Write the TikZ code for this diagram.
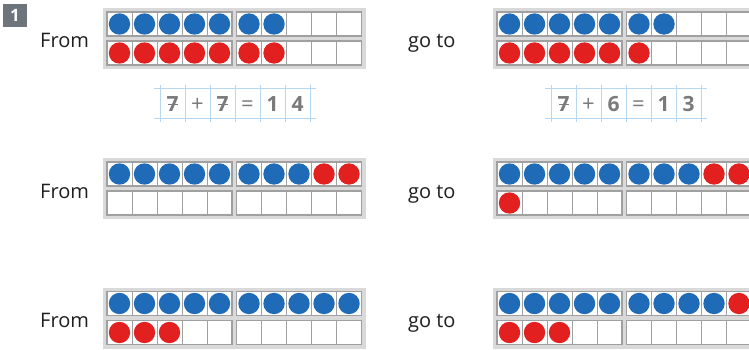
\documentclass[tikz,border=0pt]{standalone}
\usepackage{fontspec}
\setmainfont{Open Sans}
\definecolor{dotblue}{HTML}{1F6BB8}
\definecolor{dotred}{HTML}{E2201F}
\definecolor{framebg}{HTML}{D9D9D9}
\definecolor{cellline}{HTML}{A0A0A0}
\definecolor{gridblue}{HTML}{B5D8F2}
\definecolor{digitgray}{HTML}{7A7A7A}
\definecolor{badgegray}{HTML}{6D747B}
\definecolor{txt}{HTML}{1E1E1E}
% #1 x of first cell, #2 y of top row, #3 blue top, #4 red top, #5 blue bottom, #6 red bottom
\newcommand{\tenframe}[6]{%
  \fill[framebg] (#1-4,#2-4) rectangle (#1+259,#2+57);
  \foreach \row in {0,1}{%
    \foreach \half in {0,1}{%
      \filldraw[fill=white, draw=cellline, line width=1.2pt]
        (#1+\half*129.5, #2+\row*29) rectangle ++(125,24);
      \foreach \k in {1,...,4}
        \draw[cellline, line width=0.8pt] (#1+\half*129.5+\k*25, #2+\row*29) -- ++(0,24);
    }%
  }%
  \foreach \i in {0,...,9}{%
    \pgfmathsetmacro\cx{#1+12.5+\i*25+(\i>4)*4.5}%
    \ifnum\i<#3 \fill[dotblue] (\cx,#2+12) circle (10.7pt);
    \else\ifnum\i<\numexpr#3+#4\relax \fill[dotred] (\cx,#2+12) circle (10.7pt);\fi\fi
    \ifnum\i<#5 \fill[dotblue] (\cx,#2+41) circle (10.7pt);
    \else\ifnum\i<\numexpr#5+#6\relax \fill[dotred] (\cx,#2+41) circle (10.7pt);\fi\fi
  }%
}
\newcommand{\eqgrid}[1]{%
  \foreach \k in {0,...,6}
    \draw[gridblue, line width=0.7pt] (#1+\k*25,85) -- (#1+\k*25,122);
  \draw[gridblue, line width=0.7pt] (#1-6,88) -- (#1+156,88);
  \draw[gridblue, line width=0.7pt] (#1-6,118) -- (#1+156,118);
}
\tikzset{
  lbl/.style={font=\fontsize{20}{24}\selectfont, text=txt, inner sep=0pt, anchor=base west},
  dig/.style={font=\bfseries\fontsize{21}{25}\selectfont, text=digitgray, inner sep=0pt, anchor=base},
  sym/.style={font=\fontsize{22}{25}\selectfont, text=digitgray, inner sep=0pt, anchor=base},
  crossbar/.style={digitgray, line width=1.8pt}
}
\begin{document}
\begin{tikzpicture}[x=1pt,y=-1pt]
\useasboundingbox (0,0) rectangle (749,350);
\clip (0,0) rectangle (749,350);
% badge
\fill[badgegray] (3,4) rectangle (27,27);
\node[font=\bfseries\fontsize{17}{18}\selectfont, text=white, inner sep=0pt] (badge) at (15,15.5) {1};
% labels
\node[lbl] (from1) at (40,48) {From};
\node[lbl] (goto1) at (408,48) {go to};
\node[lbl] (from2) at (40,198) {From};
\node[lbl] (goto2) at (408,198) {go to};
\node[lbl] (from3) at (40,327.5) {From};
\node[lbl] (goto3) at (408,327.5) {go to};
% frames
\tenframe{107}{12}{7}{0}{0}{7}
\tenframe{497}{12}{7}{0}{0}{6}
\tenframe{107}{162}{8}{2}{0}{0}
\tenframe{497}{162}{8}{2}{0}{1}
\tenframe{107}{291.5}{10}{0}{0}{3}
\tenframe{497}{291.5}{9}{1}{0}{3}
% equations
\eqgrid{160}
\eqgrid{551}
\node[dig] (a1) at (172.5,112) {7};
\draw[crossbar] (168,104.5) -- (177.5,104.5);
\node[sym] (a2) at (197.5,112) {+};
\node[dig] (a3) at (222.5,112) {7};
\draw[crossbar] (218,104.5) -- (227.5,104.5);
\node[sym] (a4) at (247.5,112) {=};
\node[dig] (a5) at (272.5,112) {1};
\node[dig] (a6) at (297.5,112) {4};
\node[dig] (b1) at (563.5,112) {7};
\draw[crossbar] (559,104.5) -- (568.5,104.5);
\node[sym] (b2) at (588.5,112) {+};
\node[dig] (b3) at (613.5,112) {6};
\node[sym] (b4) at (638.5,112) {=};
\node[dig] (b5) at (663.5,112) {1};
\node[dig] (b6) at (688.5,112) {3};
\end{tikzpicture}
\end{document}
